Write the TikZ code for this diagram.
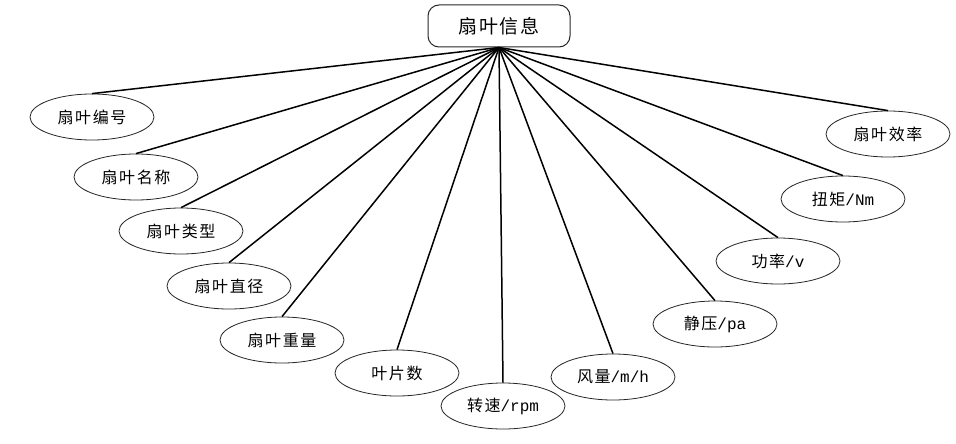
\documentclass[tikz,border=0pt]{standalone}
\usepackage{fontspec}
\setmainfont{Liberation Serif}
\setmonofont{Liberation Mono}
\newfontfamily\cjk[LetterSpace=10]{Noto Sans CJK SC}
\usetikzlibrary{shapes.geometric}
\tikzset{
  info/.style ={draw=black!85, line width=1pt, rounded corners=11pt, minimum width=142pt,
                minimum height=42pt, inner sep=0pt, font=\cjk\fontsize{19}{19}\selectfont},
  attr/.style ={ellipse, draw=black!85, line width=0.8pt, minimum width=124pt,
                minimum height=46pt, inner sep=0pt, font=\cjk\fontsize{16}{16}\selectfont},
  link/.style ={black, line width=1.5pt},
}
\newcommand{\unit}[1]{{\ttfamily\fontsize{16}{16}\selectfont #1}}
\begin{document}
\begin{tikzpicture}[x=1pt,y=-1pt]
  \useasboundingbox (0,0) rectangle (956,444);
  \node[info] (root) at (499,26) {扇叶信息};
  % attributes, left to right
  \node[attr] (num)   at (92,117)  {扇叶编号};
  \node[attr] (name)  at (136,177) {扇叶名称};
  \node[attr] (kind)  at (181,231) {扇叶类型};
  \node[attr] (diam)  at (229,286) {扇叶直径};
  \node[attr] (mass)  at (282,340) {扇叶重量};
  \node[attr] (blade) at (397,373) {叶片数};
  \node[attr] (speed) at (503,406) {转速\unit{/rpm}};
  \node[attr] (flow)  at (613,377) {风量\unit{/m/h}};
  \node[attr] (press) at (715,324) {静压\unit{/pa}};
  \node[attr] (power) at (778,261) {功率\unit{/v}};
  \node[attr] (torq)  at (843,199) {扭矩\unit{/Nm}};
  \node[attr] (eff)   at (888,134) {扇叶效率};
  \foreach \n in {num,name,kind,diam,mass,blade,speed,flow,press,power,torq,eff}
    \draw[link] (root.south) -- (\n.north);
\end{tikzpicture}
\end{document}
